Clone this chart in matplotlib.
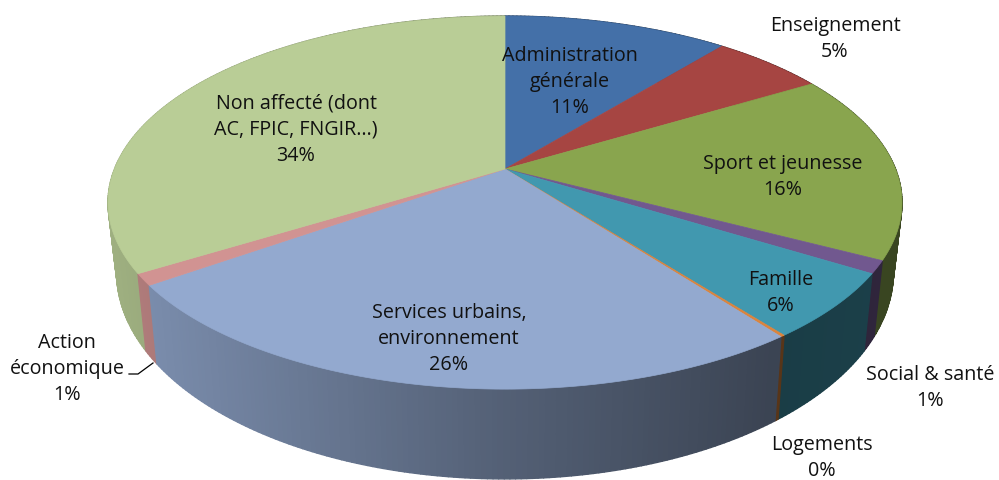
import numpy as np
import matplotlib
matplotlib.use("Agg")
import matplotlib.pyplot as plt
from matplotlib.collections import PolyCollection
from matplotlib.colors import to_rgb

# ---- data -------------------------------------------------------------
categories = ["Administration\ngénérale", "Enseignement", "Sport et jeunesse",
              "Social & santé", "Famille", "Logements",
              "Services urbains,\nenvironnement", "Action\néconomique",
              "Non affecté (dont\nAC, FPIC, FNGIR…)"]
shares = [10.9, 5.5, 16.3, 1.1, 5.7, 0.15, 25.55, 1.0, 33.8]
percent_labels = ["11%", "5%", "16%", "1%", "6%", "0%", "26%", "1%", "34%"]
colors = ["#4470A8", "#A64542", "#89A54E", "#71588F", "#4198AF",
          "#DB843D", "#93A9CF", "#D19392", "#B9CD96"]

# ---- label placement (pixel centre of the whole block) ------------------
label_xy = [(570, 82), (835, 39), (783, 177), (930, 388), (781, 293),
            (822, 458), (449, 339), (67, 369), (296, 130)]

# ---- perspective of the top and bottom discs ----------------------------
CX = 505
TOP = dict(R=390.5, S=180.5, cy=170, k=0.18)
BOT = dict(R=382.0, S=200.0, cy=236, k=0.18)
SHADE_U = [107, 500, 775, 900]
SHADE_F = [0.86, 0.57, 0.40, 0.42]


def project(theta, p):
    X, Y = np.sin(theta), np.cos(theta)
    w = 1 + p["k"] * Y
    return CX + p["R"] * X / w, p["cy"] - p["S"] * Y / w


fig = plt.figure(figsize=(9.99, 4.81), dpi=100)
ax = fig.add_axes([0, 0, 1, 1])
ax.set_xlim(0, 999)
ax.set_ylim(481, 0)
ax.axis("off")

edges = np.concatenate([[0], np.cumsum(shares)]) / np.sum(shares) * 2 * np.pi

# side wall: thin segments, back to front, shaded by horizontal position
segments = []
for i, col in enumerate(colors):
    base = np.array(to_rgb(col))
    n = max(2, int((edges[i + 1] - edges[i]) / 0.012))
    t = np.linspace(edges[i], edges[i + 1], n + 1)
    for a, b in zip(t[:-1], t[1:]):
        ux, uy = project(np.array([a, b]), TOP)
        lx, ly = project(np.array([a, b]), BOT)
        f = np.interp(ux.mean(), SHADE_U, SHADE_F)
        segments.append((np.cos((a + b) / 2),
                         np.column_stack([[ux[0], ux[1], lx[1], lx[0]],
                                          [uy[0], uy[1], ly[1], ly[0]]]),
                         base * f))
segments.sort(key=lambda s: -s[0])
ax.add_collection(PolyCollection([s[1] for s in segments],
                                 facecolors=[s[2] for s in segments],
                                 edgecolors=[s[2] for s in segments],
                                 linewidths=1.0, zorder=1))

# top faces
for i, col in enumerate(colors):
    t = np.linspace(edges[i], edges[i + 1], 200)
    x, y = project(t, TOP)
    ax.fill(np.r_[CX, x], np.r_[TOP["cy"], y], facecolor=col, edgecolor=col,
            linewidth=0.5, zorder=2)

# labels
for name, pct, (x, y) in zip(categories, percent_labels, label_xy):
    ax.text(x, y, f"{name}\n{pct}", ha="center", va="center", ma="center",
            family="Open Sans", fontsize=14.2, linespacing=1.43,
            color="#111111", zorder=3)

# leader line for Action économique
ax.plot([129, 138, 153], [375, 375, 364], color="black", lw=0.9, zorder=3)

fig.savefig("out.png", dpi=100)
